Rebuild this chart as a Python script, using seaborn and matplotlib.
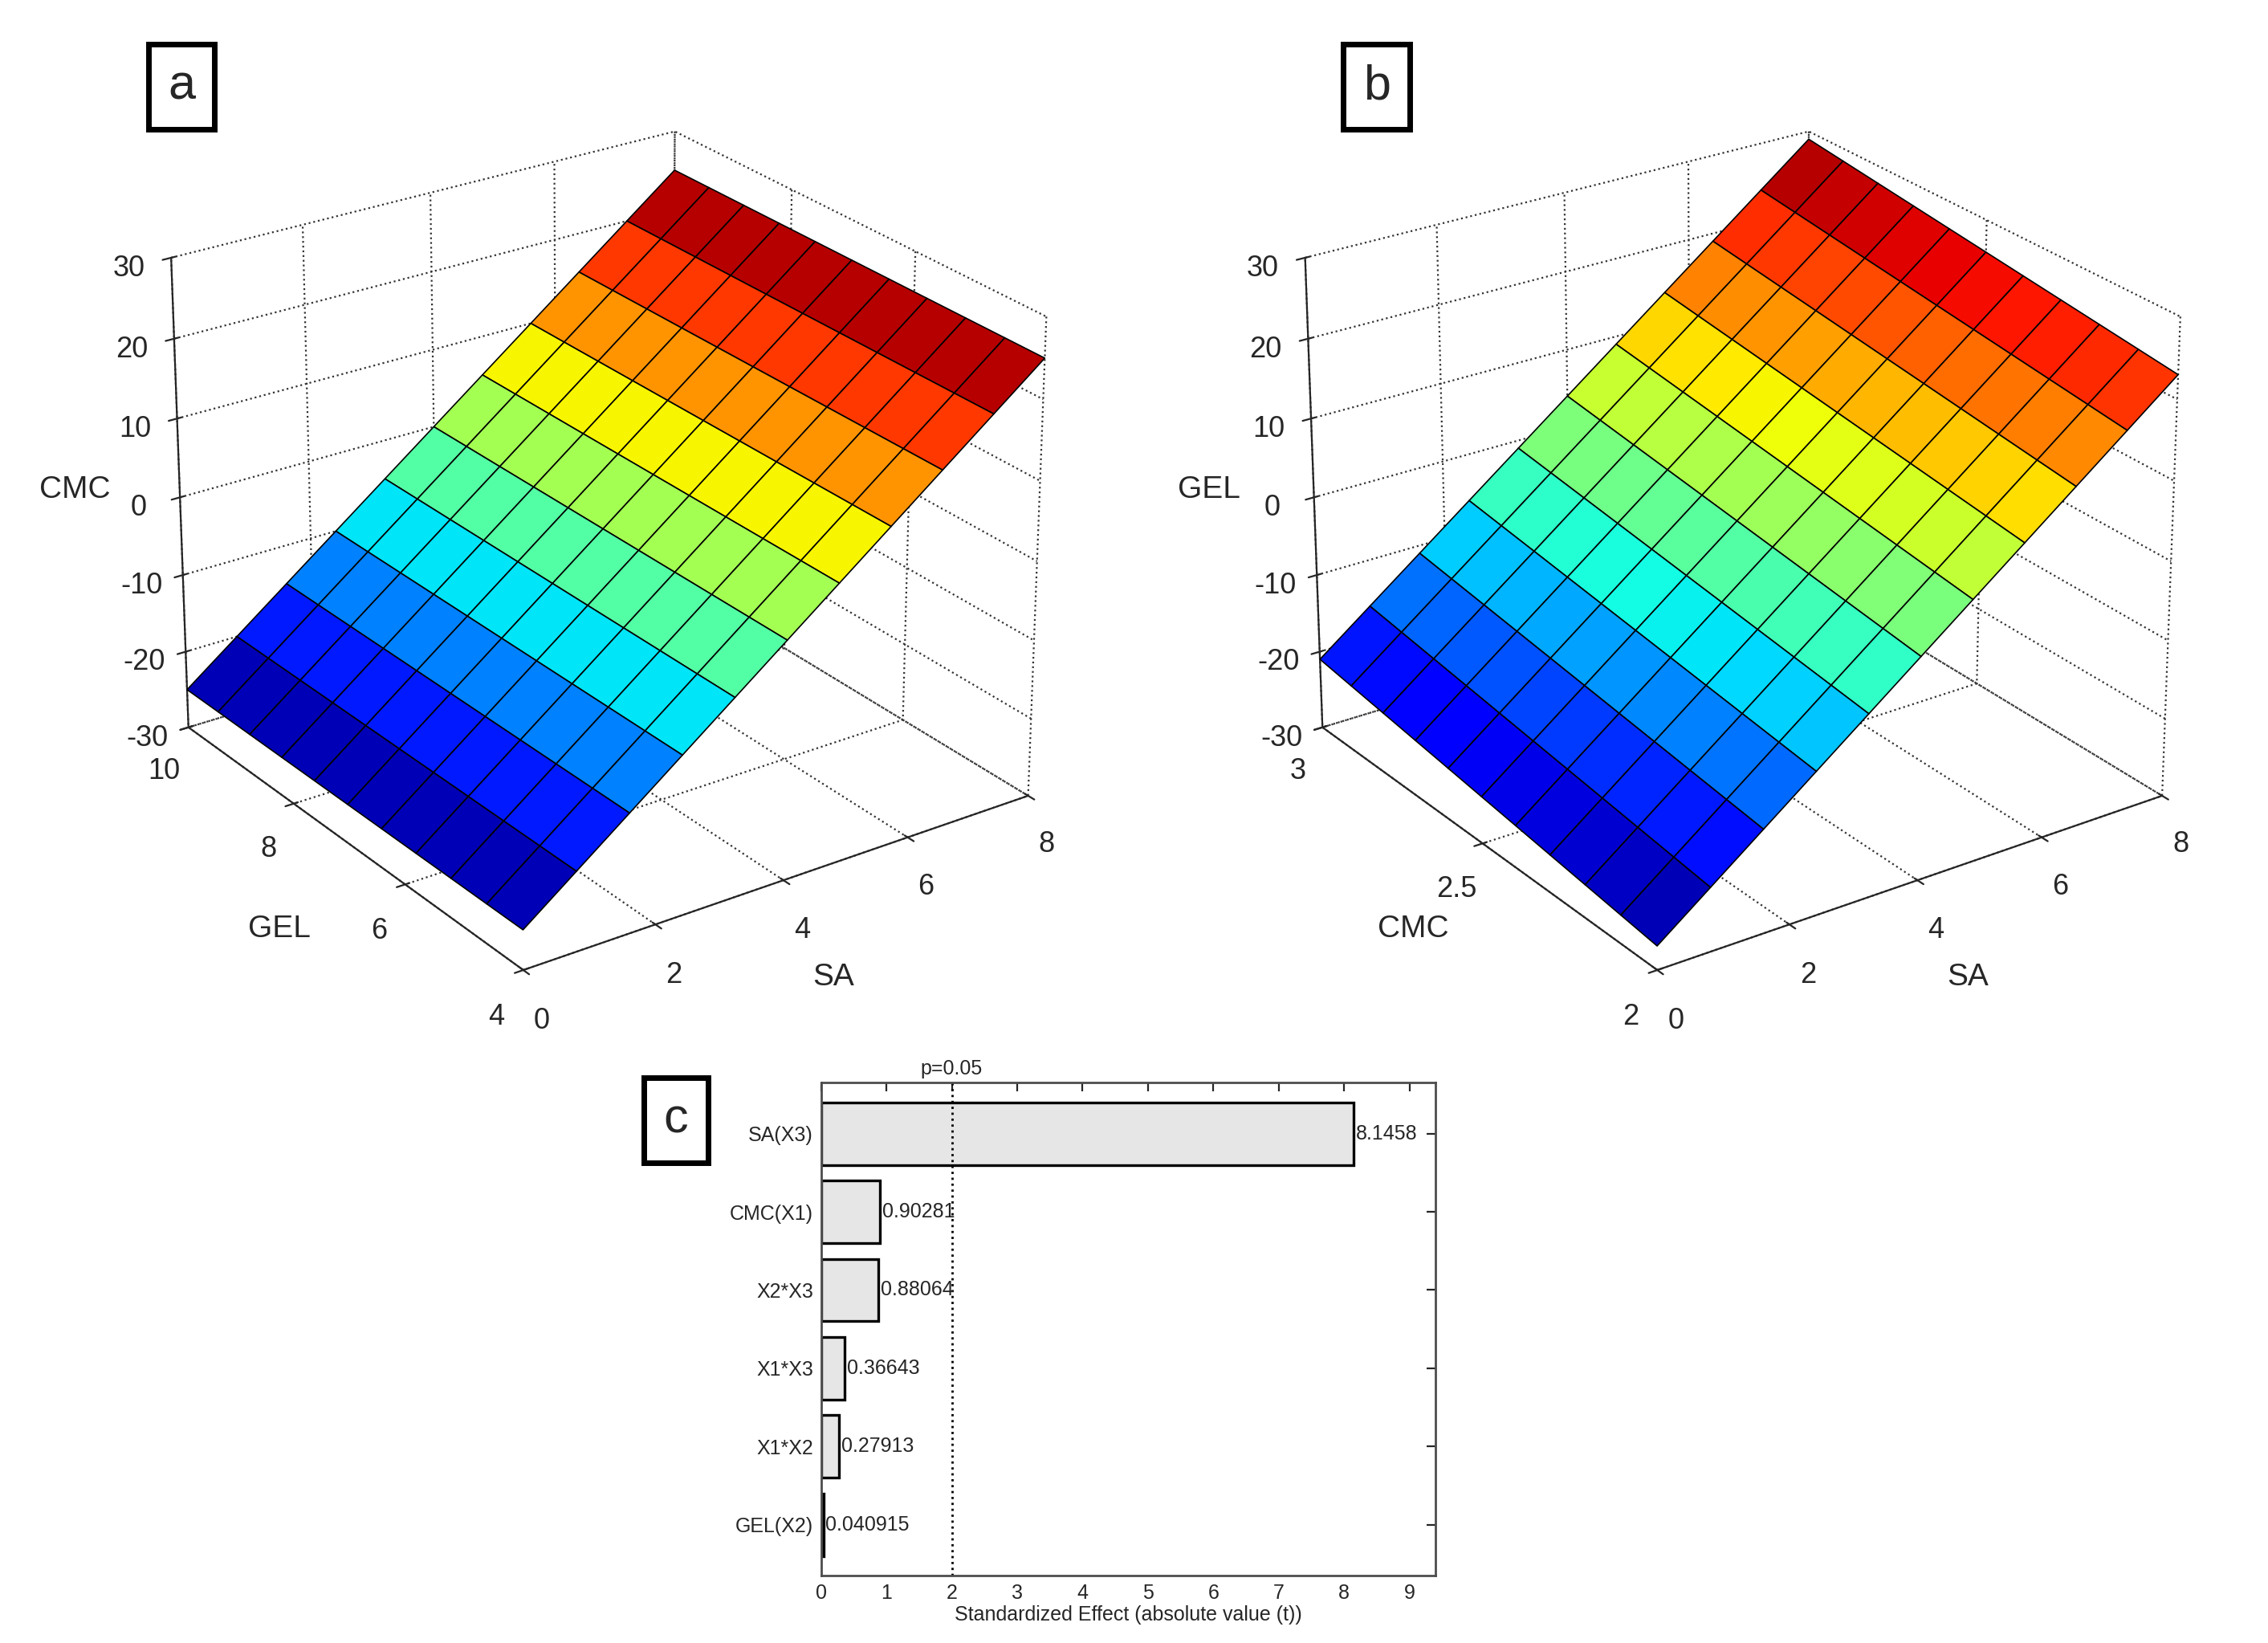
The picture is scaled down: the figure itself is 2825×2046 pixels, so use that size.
import numpy as np
import pandas as pd
import matplotlib
matplotlib.use("Agg")
import matplotlib.pyplot as plt
import seaborn as sns

sns.set_style("white")
plt.rcParams['font.family'] = ['Liberation Sans', 'DejaVu Sans']

# Panel c data
terms = ["SA(X3)", "CMC(X1)", "X2*X3", "X1*X3", "X1*X2", "GEL(X2)"]
effects = [8.1458, 0.90281, 0.88064, 0.36643, 0.27913, 0.040915]
effect_labels = ["8.1458", "0.90281", "0.88064", "0.36643", "0.27913", "0.040915"]
p_crit = 2.0

# Panel a grid (SA vs GEL -> CMC)
sa_vals = [0, 0.8, 1.6, 2.4, 3.2, 4.0, 4.8, 5.6, 6.4, 7.2, 8.0]
gel_vals = [4, 4.6, 5.2, 5.8, 6.4, 7.0, 7.6, 8.2, 8.8, 9.4, 10]
cmc_at_sa_a = [-25, -20, -15, -10, -5, 0, 5, 10, 15, 20, 25]
# Panel b grid (SA vs CMC -> GEL)
cmc_vals = [2, 2.1, 2.2, 2.3, 2.4, 2.5, 2.6, 2.7, 2.8, 2.9, 3.0]
gel_at_sa_b = [-27, -22, -17, -12, -7, -2, 3, 8, 13, 18, 23]
gel_at_cmc_b = [0, 0.6, 1.2, 1.8, 2.4, 3.0, 3.6, 4.2, 4.8, 5.4, 6.0]

fig = plt.figure(figsize=(14.125, 10.23), dpi=200)

def style3d(ax):
    for axis in (ax.xaxis, ax.yaxis, ax.zaxis):
        axis.set_pane_color((1, 1, 1, 0))
        axis._axinfo['grid']['linestyle'] = ':'
        axis._axinfo['grid']['color'] = (0.2, 0.2, 0.2, 1)
        axis._axinfo['grid']['linewidth'] = 0.8
    ax.tick_params(labelsize=13)

def surf(ax, X, Y, Z, xlim, ylim, yticks, ytl, xl, yl, zl):
    ax.plot_surface(X, Y, Z, cmap='jet', vmin=Z.min(), vmax=Z.max(),
                    edgecolor='k', linewidth=0.6, rstride=1, cstride=1, antialiased=True)
    ax.set_xlim(*xlim); ax.set_ylim(*ylim); ax.set_zlim(-30, 30)
    ax.set_xticks([0, 2, 4, 6, 8]); ax.set_yticks(yticks); ax.set_yticklabels(ytl)
    ax.set_zticks([-30, -20, -10, 0, 10, 20, 30])
    ax.set_zticklabels(["-30", "-20", "-10", "0", "10", "20", "30"])
    ax.set_xlabel(xl, fontsize=14, labelpad=10)
    ax.set_ylabel(yl, fontsize=14, labelpad=10)
    ax.set_zlabel(zl, fontsize=14, labelpad=8)
    ax.view_init(elev=25, azim=-125)
    ax.set_box_aspect((1, 1, 0.85))
    style3d(ax)

axa = fig.add_axes([0.03, 0.37, 0.46, 0.6], projection='3d')
X, Y = np.meshgrid(sa_vals, gel_vals)
Z = np.tile(np.array(cmc_at_sa_a), (len(gel_vals), 1))
surf(axa, X, Y, Z, (0, 8), (4, 10), [4, 6, 8, 10], ["4", "6", "8", "10"], "SA", "GEL", "CMC")

axb = fig.add_axes([0.53, 0.37, 0.46, 0.6], projection='3d')
X, Y = np.meshgrid(sa_vals, cmc_vals)
Z = np.array(gel_at_sa_b)[None, :] + np.array(gel_at_cmc_b)[:, None]
surf(axb, X, Y, Z, (0, 8), (2, 3), [2, 2.5, 3], ["2", "2.5", "3"], "SA", "CMC", "GEL")

# Panel c
axc = fig.add_axes([0.362, 0.041, 0.271, 0.30])
df = pd.DataFrame({"term": terms, "effect": effects})
sns.barplot(data=df, x="effect", y="term", orient="h", color="#e6e6e6",
            edgecolor="black", linewidth=1.2, width=0.8, saturation=1, ax=axc)
for i, (v, lab) in enumerate(zip(effects, effect_labels)):
    axc.text(v + 0.03, i, lab, va="center", ha="left", fontsize=9)
axc.axvline(p_crit, color="k", linestyle=":", linewidth=1)
axc.text(p_crit, -0.7, "p=0.05", ha="center", va="bottom", fontsize=9)
axc.set_xlim(0, 9.4)
axc.set_ylim(5.65, -0.65)
axc.set_xticks(range(10))
axc.set_xlabel("Standardized Effect (absolute value (t))", fontsize=9, labelpad=1)
axc.set_ylabel("")
axc.tick_params(axis='both', labelsize=9, direction='in', top=True, right=True, length=4)
for s in axc.spines.values():
    s.set_linewidth(1); s.set_color('0.3')

for (x, y, t) in [(0.08, 0.947, "a"), (0.607, 0.947, "b"), (0.298, 0.318, "c")]:
    fig.text(x, y, t, fontsize=22, ha="center", va="center",
             bbox=dict(boxstyle="square,pad=0.4", fc="white", ec="black", lw=2.5))

fig.savefig("out.png", dpi=200)
